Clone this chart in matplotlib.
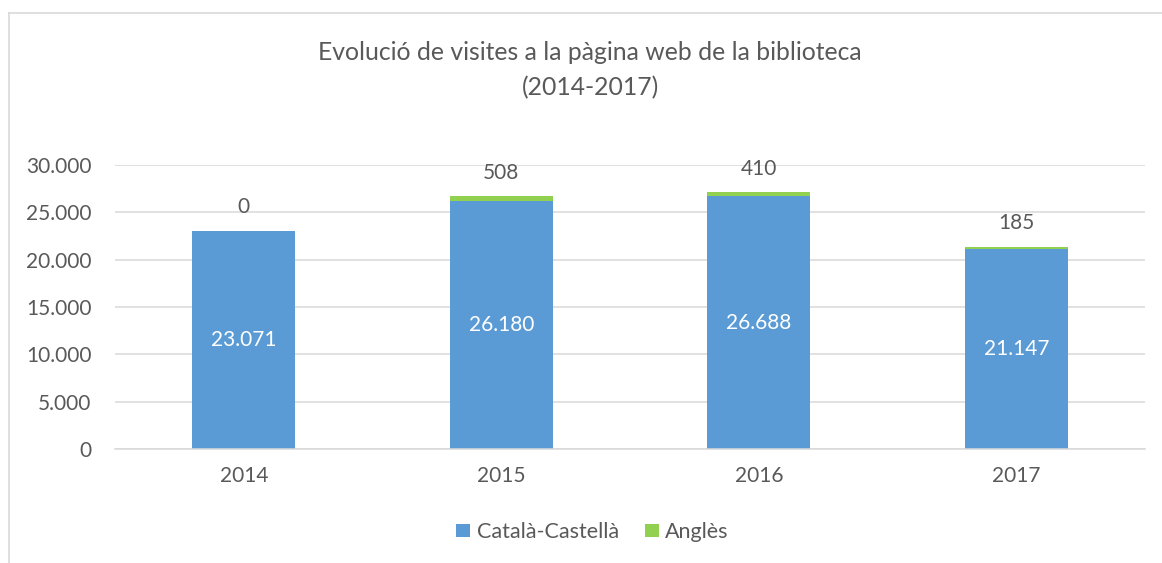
import matplotlib.pyplot as plt
import numpy as np
from matplotlib.lines import Line2D
from matplotlib.patches import Patch

# data
years = ["2014", "2015", "2016", "2017"]
cat_cast = [23071, 26180, 26688, 21147]
angles = [0, 508, 410, 185]
series_names = ["Català-Castellà", "Anglès"]
y_ticks = [0, 5000, 10000, 15000, 20000, 25000, 30000]

BLUE = "#5B9BD5"
GREEN = "#92D050"
TEXT = "#595959"
GRID = "#D9D9D9"


def fmt_thousands(v):
    # Catalan style: dot as thousands separator
    return f"{int(v):,}".replace(",", ".")


def plot_stacked_visits():
    plt.rcParams["font.family"] = ["Lato", "DejaVu Sans"]

    fig = plt.figure(figsize=(11.62, 5.63), dpi=100)
    ax = fig.add_axes([0.099, 0.2025, 0.8864, 0.5044])

    x = np.arange(len(years))
    width = 0.4

    bars1 = ax.bar(x, cat_cast, width, color=BLUE, label=series_names[0], zorder=2)
    bars2 = ax.bar(x, angles, width, bottom=cat_cast, color=GREEN,
                   label=series_names[1], zorder=2)

    # white labels centered in the blue segment
    for rect, v in zip(bars1, cat_cast):
        ax.text(rect.get_x() + rect.get_width() / 2, v / 2, fmt_thousands(v),
                ha="center", va="center", color="white", fontsize=15)

    # Anglès labels above the top of the stack
    for rect, base, v in zip(bars2, cat_cast, angles):
        ax.annotate(fmt_thousands(v), (rect.get_x() + rect.get_width() / 2, base + v),
                    xytext=(0, 17), textcoords="offset points",
                    ha="center", va="center", color=TEXT, fontsize=15)

    ax.set_xlim(-0.5, len(years) - 0.5)
    ax.set_ylim(0, 30000)
    ax.set_yticks(y_ticks, [fmt_thousands(t) for t in y_ticks])
    ax.set_xticks(x, years)
    ax.tick_params(axis="both", length=0, labelsize=15, labelcolor=TEXT)
    ax.tick_params(axis="y", pad=17)
    ax.tick_params(axis="x", pad=12)

    ax.grid(axis="y", color=GRID, linewidth=1.1, zorder=0)
    for side in ["top", "right", "left"]:
        ax.spines[side].set_visible(False)
    ax.spines["bottom"].set_color(GRID)
    ax.spines["bottom"].set_linewidth(1.1)

    fig.text(0.508, 0.907, "Evolució de visites a la pàgina web de la biblioteca",
             ha="center", va="center", fontsize=17.8, color=TEXT)
    fig.text(0.508, 0.845, "(2014-2017)", ha="center", va="center",
             fontsize=17.8, color=TEXT)

    handles = [Patch(facecolor=BLUE), Patch(facecolor=GREEN)]
    fig.legend(handles, series_names, loc="center", bbox_to_anchor=(0.51, 0.055),
               ncols=2, frameon=False, fontsize=15.5, labelcolor=TEXT,
               handlelength=0.65, handleheight=0.6, handletextpad=0.3,
               columnspacing=1.2)

    # chart border (only left and top edges are visible in the crop)
    fig.add_artist(Line2D([8.5 / 1162, 8.5 / 1162], [1 - 13 / 563, 0],
                          transform=fig.transFigure, color=GRID, linewidth=1.2))
    fig.add_artist(Line2D([8.5 / 1162, 1], [1 - 13 / 563, 1 - 13 / 563],
                          transform=fig.transFigure, color=GRID, linewidth=1.2))

    fig.savefig("out.png", dpi=100)
    return [fig, ax]


if __name__ == "__main__":
    plot_stacked_visits()
